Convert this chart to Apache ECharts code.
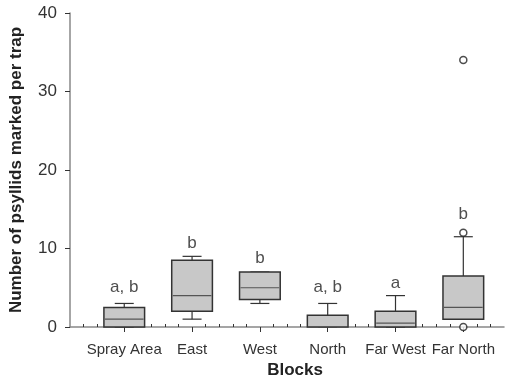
<!DOCTYPE html>
<html>
<head>
<meta charset="utf-8">
<script src="https://cdn.jsdelivr.net/npm/echarts@6/dist/echarts.min.js"></script>
<style>html,body{margin:0;padding:0;background:#fff}#c{width:514px;height:390px}</style>
</head>
<body>
<div id="c"></div>
<script>
const categories = ['Spray Area', 'East', 'West', 'North', 'Far West', 'Far North'];
// [min, Q1, median, Q3, max]
const boxStats = [
  [0, 0, 1, 2.5, 3],
  [1, 2, 4, 8.5, 9],
  [3, 3.5, 5, 7, 7],
  [0, 0, 0, 1.5, 3],
  [0, 0, 0.5, 2, 4],
  [1, 1, 2.5, 6.5, 11.5]
];
// [category index (1-based), value]
const outliers = [[6, 34], [6, 12], [6, 0]];
const letters = ['a, b', 'b', 'b', 'a, b', 'a', 'b'];
const letterY = [5.1, 10.7, 8.7, 5.1, 5.6, 14.4];
const yTicks = [0, 10, 20, 30, 40];

const catPos = categories.map((c, i) => i + 1);
const minorPos = [];
for (let i = 2; i <= 32; i++) { if (i % 5 !== 0) minorPos.push(+(i * 0.2).toFixed(1)); }

const boxData = boxStats.map((s, i) => [i + 1].concat(s));
const letterData = letters.map((t, i) => ({ value: [i + 1, letterY[i]], name: t }));

const chart = echarts.init(document.getElementById('c'));
chart.setOption({
  animation: false,
  grid: { left: 67, right: 10, top: 13, bottom: 63 },
  xAxis: [{
    type: 'value', min: 0.2, max: 6.6,
    name: 'Blocks', nameLocation: 'middle', nameGap: 32,
    nameTextStyle: { fontFamily: 'Liberation Sans', fontWeight: 'bold', fontSize: 17, color: '#222', padding: [0, 0, 0, 16] },
    axisLine: { show: true, lineStyle: { color: '#888', width: 1.5 } },
    axisTick: { show: true, length: 5, customValues: catPos, lineStyle: { color: '#333', width: 1 } },
    axisLabel: { customValues: catPos, margin: 15, fontFamily: 'Liberation Sans', fontSize: 15, color: '#333',
      formatter: v => categories[Math.round(v) - 1] || '' },
    splitLine: { show: false }
  }, {
    type: 'value', min: 0.2, max: 6.6, position: 'bottom',
    axisLine: { show: false },
    axisTick: { show: true, inside: true, length: 3, customValues: minorPos, lineStyle: { color: '#333', width: 1 } },
    axisLabel: { show: false },
    splitLine: { show: false }
  }],
  yAxis: {
    type: 'value', min: 0, max: 40, interval: 10,
    name: 'Number of psyllids marked per trap', nameLocation: 'middle', nameGap: 45,
    nameTextStyle: { fontFamily: 'Liberation Sans', fontWeight: 'bold', fontSize: 17, color: '#222' },
    axisLine: { show: true, lineStyle: { color: '#888', width: 1.5 } },
    axisTick: { show: true, length: 5, lineStyle: { color: '#333', width: 1 } },
    axisLabel: { margin: 13, fontFamily: 'Liberation Sans', fontSize: 17, color: '#333',
      formatter: v => yTicks.indexOf(v) >= 0 ? String(v) : '' },
    splitLine: { show: false }
  },
  series: [{
    type: 'custom',
    xAxisIndex: 0,
    data: boxData,
    renderItem: function (params, api) {
      const x = api.value(0);
      const mn = api.coord([x, api.value(1)]);
      const q1 = api.coord([x, api.value(2)]);
      const md = api.coord([x, api.value(3)]);
      const q3 = api.coord([x, api.value(4)]);
      const mx = api.coord([x, api.value(5)]);
      const bw = api.size([0.6, 0])[0];
      const cw = api.size([0.28, 0])[0];
      const cx = q1[0];
      const wStyle = { stroke: '#333', lineWidth: 1.2 };
      return {
        type: 'group',
        children: [
          { type: 'line', shape: { x1: cx, y1: q3[1], x2: cx, y2: mx[1] }, style: wStyle },
          { type: 'line', shape: { x1: cx, y1: q1[1], x2: cx, y2: mn[1] }, style: wStyle },
          { type: 'line', shape: { x1: cx - cw / 2, y1: mx[1], x2: cx + cw / 2, y2: mx[1] }, style: wStyle },
          { type: 'line', shape: { x1: cx - cw / 2, y1: mn[1], x2: cx + cw / 2, y2: mn[1] }, style: wStyle },
          { type: 'rect', shape: { x: cx - bw / 2, y: q3[1], width: bw, height: q1[1] - q3[1] },
            style: { fill: '#c8c8c8', stroke: '#333', lineWidth: 1.5 } },
          { type: 'line', shape: { x1: cx - bw / 2 + 1, y1: md[1], x2: cx + bw / 2 - 1, y2: md[1] },
            style: { stroke: '#555', lineWidth: 1.2 } }
        ]
      };
    },
    z: 2
  }, {
    type: 'scatter',
    data: outliers,
    symbol: 'circle', symbolSize: 7,
    itemStyle: { color: '#fff', borderColor: '#222', borderWidth: 1.5 },
    z: 5
  }, {
    type: 'scatter',
    data: letterData,
    symbolSize: 1,
    itemStyle: { color: 'transparent' },
    label: { show: true, position: 'inside', formatter: p => p.name,
      fontFamily: 'Liberation Sans', fontSize: 17, color: '#222' },
    z: 6
  }]
});
</script>
</body>
</html>
